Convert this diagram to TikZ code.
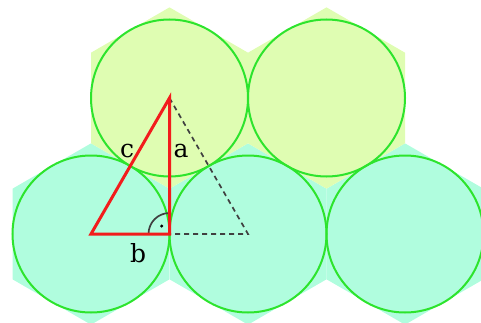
\documentclass[tikz,border=0pt]{standalone}
\usepackage{fontspec}
\setmainfont{DejaVu Serif}
\usetikzlibrary{positioning}

\definecolor{hexyellow}{RGB}{223,253,178}
\definecolor{hexcyan}{RGB}{176,253,222}
\definecolor{ringgreen}{RGB}{45,228,45}
\definecolor{sidered}{RGB}{242,28,28}

\begin{document}
\begin{tikzpicture}[
    x=1pt, y=1pt,
    ring/.style={draw=ringgreen, line width=2pt},
    side/.style={draw=sidered, line width=3pt},
    guide/.style={draw=black!75, line width=1.7pt, dash pattern=on 5pt off 4pt},
    every node/.style={inner sep=0pt, font=\fontsize{25}{30}\selectfont}
]
    \useasboundingbox (0,0) rectangle (481,322);

    % hexagons behind the circles
    \foreach \x/\y/\c in {91/88/hexcyan, 248/88/hexcyan, 405/88/hexcyan,
                          169.5/224/hexyellow, 326.5/224/hexyellow}
        \fill[\c] (\x,\y) +(90:90.64) -- +(150:90.64) -- +(210:90.64)
            -- +(270:90.64) -- +(330:90.64) -- +(30:90.64) -- cycle;

    % circles
    \foreach \x/\y in {91/88, 248/88, 405/88, 169.5/224, 326.5/224}
        \draw[ring] (\x,\y) circle[radius=78.5pt];

    \coordinate (A) at (91,88);
    \coordinate (B) at (169.5,88);
    \coordinate (C) at (169.5,224);
    \coordinate (D) at (248,88);

    \draw[guide] (C) -- (D) -- (B);

    % right angle
    \draw[black!75, line width=1.7pt] (B) ++(-21,0) arc[start angle=180, end angle=90, radius=21pt];
    \fill[black] (B) ++(-7.8,8) circle[radius=1.7pt];

    \draw[side] (A) -- (B) -- (C) -- cycle;

    \node (c) at (127,171) {c};
    \node (a) at (181,170.5) {a};
    \node (b) at (138,68.5) {b};
\end{tikzpicture}
\end{document}
